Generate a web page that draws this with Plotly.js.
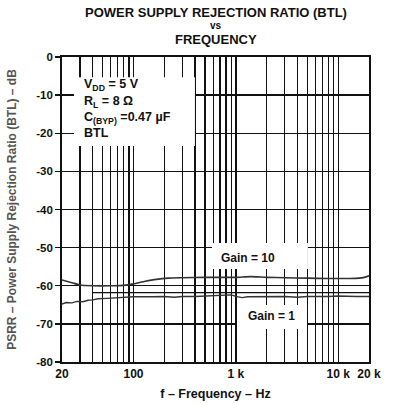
<!DOCTYPE html>
<html>
<head>
<meta charset="utf-8">
<script src="https://cdn.plot.ly/plotly-3.0.1.min.js"></script>
<style>html,body{margin:0;padding:0;background:#fff;}#chart{width:393px;height:404px;}</style>
</head>
<body>
<div id="chart"></div>
<script>
// Frequency (Hz) and PSRR (dB)
const freqGain10 = [20, 25, 30, 40, 60, 80, 100, 130, 160, 220, 300, 500, 1000, 1400, 2000, 3000, 5000, 8000, 10000, 13000, 16000, 18000, 20000];
const psrrGain10 = [-58.5, -59.2, -59.8, -60.0, -60.0, -59.9, -59.5, -58.8, -58.4, -58.0, -57.9, -57.8, -57.8, -57.6, -57.8, -57.9, -58.0, -58.1, -58.1, -58.1, -58.0, -57.8, -57.4];

const freqGain1 = [20, 22, 25, 28, 32, 36, 40, 45, 55, 70, 100, 150, 200, 250, 300, 400, 600, 800, 900, 1000, 1150, 1300, 2000, 3000, 4000, 5000, 8000, 10000, 15000, 20000];
const psrrGain1 = [-64.8, -64.4, -64.5, -64.1, -64.2, -63.8, -63.7, -63.4, -63.3, -63.1, -62.9, -62.9, -62.8, -63.0, -62.8, -62.8, -62.7, -62.5, -62.4, -62.8, -63.1, -62.9, -62.8, -62.8, -63.0, -62.8, -62.8, -62.7, -62.8, -62.8];

const freqRef = [40, 20000];
const psrrRef = [-61.8, -61.8];

const xLabelVals = [20, 100, 1000, 10000, 20000];
const xLabelText = ['20', '100', '1 k', '10 k', '20 k'];
const xGridVals = [30,40,50,60,70,80,90,200,300,400,500,600,700,800,900,2000,3000,4000,5000,6000,7000,8000,9000];
const yTickVals = [0,-10,-20,-30,-40,-50,-60,-70,-80];
const yTickText = ['0','-10','-20','-30','-40','-50','-60','-70','-80'];

const titleLines = ['POWER SUPPLY REJECTION RATIO (BTL)', 'vs', 'FREQUENCY'];

const FONT = 'Liberation Sans, Arial, sans-serif';

const traces = [
  {x: freqGain10, y: psrrGain10, mode: 'lines', line: {color: '#333', width: 1.6, shape: 'spline', smoothing: 0.6}, hoverinfo: 'skip'},
  {x: freqRef, y: psrrRef, mode: 'lines', line: {color: '#111', width: 1.2}, hoverinfo: 'skip'},
  {x: freqGain1, y: psrrGain1, mode: 'lines', line: {color: '#333', width: 1.4}, hoverinfo: 'skip'}
];

function box(x0, x1, y0, y1) {
  return {type: 'rect', xref: 'paper', yref: 'paper', x0: x0, x1: x1, y0: y0, y1: y1,
          fillcolor: '#fff', line: {width: 0}, layer: 'above'};
}
function note(text, x, y, anchor, size) {
  return {text: text, xref: 'paper', yref: 'paper', x: x, y: y, xanchor: anchor, yanchor: 'middle',
          showarrow: false, font: {family: FONT, size: size || 12.5, color: '#111'}};
}

const titleY = [1.1475, 1.1023, 1.0574];
const titleSize = [13, 10, 13];
const titleAnns = titleLines.map((t, i) => note('<b>' + t + '</b>', 0.5, titleY[i], 'center', titleSize[i]));

const layout = {
  width: 393, height: 404,
  margin: {l: 62, r: 24, t: 57, b: 42},
  paper_bgcolor: '#fff', plot_bgcolor: '#fff',
  showlegend: false,
  font: {family: FONT, color: '#111'},
  xaxis: {
    type: 'log', range: [Math.log10(20), Math.log10(20000)],
    tickmode: 'array', tickvals: xLabelVals,
    ticktext: xLabelText.map(t => '<b>' + t + '</b>'),
    tickfont: {family: FONT, size: 12, color: '#111'},
    ticks: '', showgrid: true, gridcolor: '#111', gridwidth: 1.3,
    minor: {tickmode: 'array', tickvals: xGridVals, showgrid: true, gridcolor: '#111', gridwidth: 1.3, ticks: ''},
    showline: true, linecolor: '#111', linewidth: 1.8, mirror: true,
    zeroline: false,
    title: {text: '<b>f – Frequency – Hz</b>', font: {family: FONT, size: 12.5, color: '#111'}, standoff: 9}
  },
  yaxis: {
    range: [-80, 0],
    tickmode: 'array', tickvals: yTickVals, ticktext: yTickText.map(t => '<b>' + t + '</b>'),
    tickfont: {family: FONT, size: 11.5, color: '#111'},
    ticks: 'outside', ticklen: 5, tickcolor: '#111', tickwidth: 1.3,
    showgrid: true, gridcolor: '#111', gridwidth: 1.3,
    showline: true, linecolor: '#111', linewidth: 1.8, mirror: true,
    zeroline: false,
    title: {text: '<b>PSRR – Power Supply Rejection Ratio (BTL) – dB</b>', font: {family: FONT, size: 12, color: '#555'}, standoff: 17}
  },
  shapes: [
    box(0.039, 0.433, 0.708, 0.934),
    box(0.489, 0.801, 0.305, 0.390),
    box(0.570, 0.798, 0.108, 0.187)
  ],
  annotations: titleAnns.concat([
    note('<b>V<sub>DD</sub> = 5 V</b>', 0.065, 0.908, 'left'),
    note('<b>R<sub>L</sub> = 8 Ω</b>', 0.065, 0.853, 'left'),
    note('<b>C<sub>(BYP)</sub> =0.47 µF</b>', 0.065, 0.800, 'left'),
    note('<b>BTL</b>', 0.065, 0.751, 'left'),
    note('<b>Gain = 10</b>', 0.606, 0.341, 'center', 12),
    note('<b>Gain = 1</b>', 0.684, 0.151, 'center', 12)
  ])
};

Plotly.newPlot('chart', traces, layout, {displayModeBar: false, staticPlot: true});
</script>
</body>
</html>
